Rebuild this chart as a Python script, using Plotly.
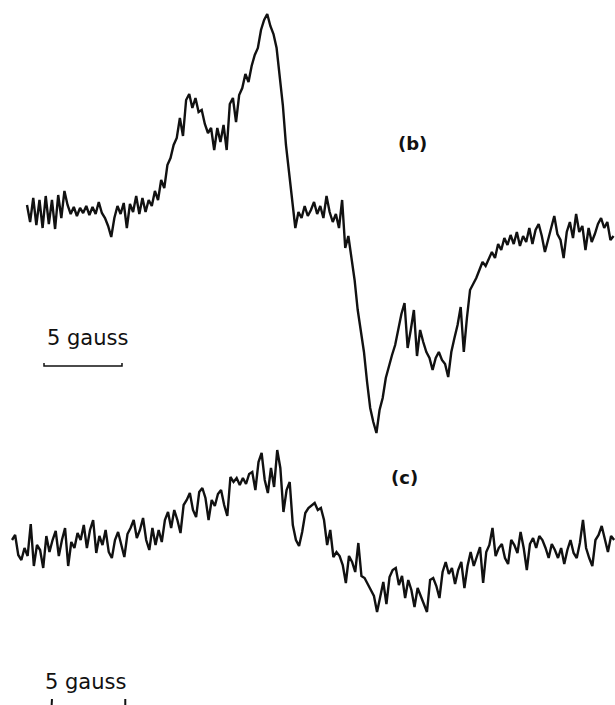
import plotly.graph_objects as go

# First-derivative ESR spectra (arbitrary amplitude units), sampled every 0.2 G
FIELD_STEP_G = 0.2

# Spectrum (b): field offset starts at 0 G
b_start_g = 0.0
b_signal = [
    5, -12, 12, -15, 10, -18, 14, -14, 10, -19, 15, -8, 19, 5, -4, 3, -6, 2, -3, 4,
    -5, 3, -4, 8, -3, -8, -16, -27, -8, 4, -4, 7, -18, 6, -2, 14, -4, 12, -2, 10,
    4, 19, 10, 30, 22, 45, 52, 65, 72, 92, 74, 110, 116, 102, 112, 98, 100, 86, 77, 82,
    60, 82, 68, 85, 60, 106, 112, 88, 115, 122, 136, 128, 144, 155, 162, 180, 190, 196, 184, 176,
    162, 135, 105, 65, 35, 12, -18, -2, -8, 4, -6, 0, 8, -4, 4, -8, 14, -2, -12, -4,
    -18, 10, -38, -26, -48, -70, -100, -120, -142, -172, -198, -212, -223, -200, -188, -168, -156, -145, -135, -120,
    -104, -93, -138, -120, -100, -146, -120, -132, -142, -148, -160, -148, -142, -150, -154, -167, -142, -128, -115, -97,
    -142, -108, -80, -74, -68, -60, -52, -56, -48, -42, -48, -34, -40, -28, -35, -25, -34, -22, -36, -26,
    -32, -18, -34, -20, -14, -26, -42, -30, -18, -6, -24, -30, -48, -22, -12, -28, -4, -22, -16, -40,
    -18, -32, -24, -14, -8, -18, -12, -30, -26,
]

# Spectrum (c): starts slightly lower in field
c_start_g = -0.96
c_signal = [
    5, 10, -10, -15, -3, -11, 21, -21, 0, -5, -23, 9, -7, 5, 14, -11, 5, 17, -21, 3,
    -3, 12, 5, 20, -3, 15, 25, -8, 9, 0, 15, -7, -13, 5, 13, -1, -12, 11, 17, 25,
    7, 15, 27, 5, -5, 17, 0, 15, 3, 25, 33, 17, 35, 25, 12, 40, 45, 52, 35, 28,
    53, 57, 47, 25, 45, 39, 51, 55, 40, 29, 68, 63, 67, 60, 67, 61, 71, 73, 55, 83,
    92, 65, 52, 77, 58, 95, 77, 33, 55, 63, 20, 5, -1, 13, 32, 37, 40, 42, 35, 37,
    25, 0, 15, -12, -7, -11, -20, -38, -11, -17, -27, 2, -31, -33, -39, -45, -51, -67, -53, -37,
    -59, -32, -25, -23, -40, -31, -53, -35, -45, -62, -43, -51, -61, -67, -35, -33, -41, -53, -27, -17,
    -29, -23, -39, -25, -17, -43, -21, -7, -21, -11, -2, -38, -7, 0, 17, -11, -3, 1, -13, -19,
    5, 0, -8, 13, -3, -25, 1, 7, -3, 9, 5, -3, -13, 1, -5, -13, -3, -19, -5, 5,
    -8, -13, 2, 25, -3, -13, -21, 5, 10, 19, 5, -7, 9, 5,
]

# Field-scale bars (gauss)
scale_b_field = [1.09, 1.09, 6.09, 6.09]
scale_b_level = [-153, -156, -156, -153]
scale_c_left_field = [1.6, 1.55]
scale_c_right_field = [6.3, 6.3]
scale_c_tick_level = [-154, -170]

PX_PER_GAUSS = 15.6
W, H = 615, 705

ink = "#111111"
fig = go.Figure()

fig.add_trace(go.Scatter(
    y=b_signal, x0=b_start_g, dx=FIELD_STEP_G, mode="lines",
    line=dict(color=ink, width=2.4), yaxis="y", showlegend=False,
))
fig.add_trace(go.Scatter(
    y=c_signal, x0=c_start_g, dx=FIELD_STEP_G, mode="lines",
    line=dict(color=ink, width=2.4), yaxis="y2", showlegend=False,
))

# scale bar for (b)
fig.add_trace(go.Scatter(
    x=scale_b_field, y=scale_b_level, mode="lines",
    line=dict(color=ink, width=1.5), yaxis="y", showlegend=False,
))
# end marks of the scale bar for (c)
for xs in (scale_c_left_field, scale_c_right_field):
    fig.add_trace(go.Scatter(
        x=xs, y=scale_c_tick_level, mode="lines",
        line=dict(color=ink, width=2), yaxis="y2", showlegend=False,
    ))

label_font = dict(family="DejaVu Sans", size=18, color=ink)
gauss_font = dict(family="DejaVu Sans", size=21, color=ink)

fig.add_annotation(x=24.68, y=67, xref="x", yref="y", text="<b>(b)</b>",
                   showarrow=False, font=label_font)
fig.add_annotation(x=24.23, y=68, xref="x", yref="y2", text="<b>(c)</b>",
                   showarrow=False, font=label_font)
fig.add_annotation(x=3.88, y=-128, xref="x", yref="y", text="5 gauss",
                   showarrow=False, font=gauss_font)
fig.add_annotation(x=3.78, y=-137, xref="x", yref="y2", text="5 gauss",
                   showarrow=False, font=gauss_font)

hidden = dict(visible=False, showgrid=False, zeroline=False, fixedrange=True)
fig.update_layout(
    width=W, height=H,
    margin=dict(l=0, r=0, t=0, b=0),
    paper_bgcolor="white", plot_bgcolor="white",
    xaxis=dict(range=[-27 / PX_PER_GAUSS, (W - 27) / PX_PER_GAUSS], **hidden),
    yaxis=dict(range=[210 - H, 210], domain=[0, 1], **hidden),
    yaxis2=dict(range=[545 - H, 545], overlaying="y", **hidden),
)

fig.write_html("out.html")
